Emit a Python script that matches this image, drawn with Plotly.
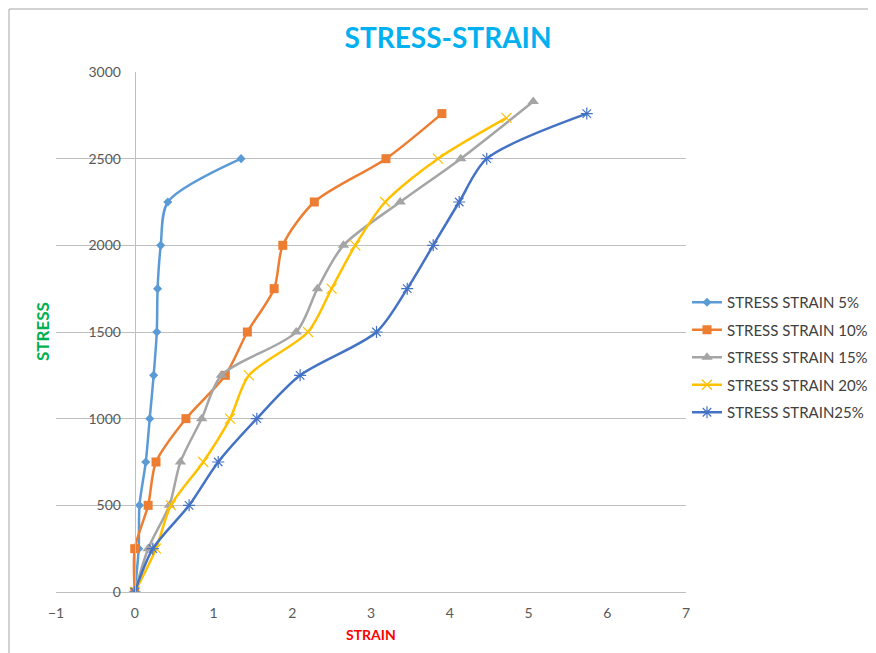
import plotly.graph_objects as go

stress = [0, 250, 500, 750, 1000, 1250, 1500, 1750, 2000, 2250, 2500]

names = ["STRESS STRAIN 5%", "STRESS STRAIN 10%", "STRESS STRAIN 15%",
         "STRESS STRAIN 20%", "STRESS STRAIN25%"]

strain_5 = [0, 0.05, 0.06, 0.14, 0.19, 0.24, 0.28, 0.29, 0.33, 0.42, 1.35]
stress_5 = stress

strain_10 = [0, 0.0, 0.17, 0.27, 0.65, 1.15, 1.43, 1.77, 1.88, 2.28, 3.19, 3.90]
stress_10 = stress + [2760]

strain_15 = [0, 0.17, 0.44, 0.58, 0.85, 1.10, 2.05, 2.32, 2.65, 3.37, 4.14, 5.06]
stress_15 = stress + [2830]

strain_20 = [0, 0.27, 0.46, 0.87, 1.21, 1.45, 2.20, 2.50, 2.80, 3.18, 3.85, 4.72]
stress_20 = stress + [2735]

strain_25 = [0, 0.23, 0.69, 1.06, 1.55, 2.10, 3.07, 3.46, 3.79, 4.12, 4.47, 5.74]
stress_25 = stress + [2760]

x_ticks = [-1, 0, 1, 2, 3, 4, 5, 6, 7]
y_ticks = [0, 500, 1000, 1500, 2000, 2500, 3000]

series = [
    (strain_5, stress_5, "#5B9BD5", dict(symbol="diamond", size=7, color="#5B9BD5")),
    (strain_10, stress_10, "#ED7D31", dict(symbol="square", size=9, color="#ED7D31")),
    (strain_15, stress_15, "#A5A5A5", dict(symbol="triangle-up", size=10, color="#A5A5A5")),
    (strain_20, stress_20, "#FFC000", dict(symbol="x-thin-open", size=10,
                                          line=dict(color="#FFD966", width=1.2))),
    (strain_25, stress_25, "#4472C4", dict(symbol="asterisk-open", size=10,
                                          line=dict(color="#6E93D6", width=1.2))),
]

FONT = "Lato"
W, H = 868, 645
L, T = 48, 64
PW, PH = 630, 520

fig = go.Figure()
for i, (xs, ys, col, mk) in enumerate(series):
    fig.add_trace(go.Scatter(
        x=xs, y=ys, name=names[i], mode="lines+markers",
        line=dict(color=col, width=2.5, shape="spline", smoothing=0.8),
        marker=mk, legendgroup=f"g{i}",
    ))

fig.update_layout(
    width=W, height=H,
    paper_bgcolor="white", plot_bgcolor="white",
    margin=dict(l=L, r=W - L - PW, t=T, b=H - T - PH, autoexpand=False),
    font=dict(family=FONT, color="#595959", size=14),
    title=dict(text="<b>STRESS-STRAIN</b>", x=440 / W, xref="container", xanchor="center",
               y=1 - 30 / H, yref="container", yanchor="middle",
               font=dict(family=FONT, size=28, color="#00B0F0")),
    xaxis=dict(range=[-1, 7], tickvals=x_ticks, showgrid=False, zeroline=False,
               showline=True, linecolor="#BFBFBF", linewidth=1,
               ticks="outside", ticklen=0, ticklabelstandoff=8,
               tickfont=dict(size=14, color="#595959")),
    yaxis=dict(range=[0, 3000], tickvals=y_ticks, showgrid=True, gridcolor="#BFBFBF",
               gridwidth=1, zeroline=False, showline=True, linecolor="#BFBFBF",
               anchor="free", position=0.125, ticks="outside", ticklen=0,
               ticklabelstandoff=11, tickfont=dict(size=14, color="#595959")),
    legend=dict(x=(L + PW + 1) / W, xref="container", xanchor="left",
                y=(PH - 214) / PH, yanchor="top",
                font=dict(family=FONT, size=15, color="#404040"),
                tracegroupgap=5, traceorder="grouped", bgcolor="rgba(0,0,0,0)"),
    showlegend=True,
)

fig.add_annotation(text="<b>STRESS</b>", xref="paper", yref="paper",
                   x=(34 - L) / PW, y=0.5, textangle=-90, showarrow=False,
                   xanchor="center", yanchor="middle",
                   font=dict(family=FONT, size=17, color="#00B050"))
fig.add_annotation(text="<b>STRAIN</b>", xref="paper", yref="paper",
                   x=0.5, y=-42 / PH, showarrow=False,
                   xanchor="center", yanchor="middle",
                   font=dict(family=FONT, size=14, color="#FF0000"))

fig.add_shape(type="rect", xref="paper", yref="paper",
              x0=(1 - L) / PW, x1=3, y0=-3, y1=(T + PH - 1) / PH,
              line=dict(color="#A6A6A6", width=1), fillcolor="rgba(0,0,0,0)", layer="below")

fig.write_html("out.html")
